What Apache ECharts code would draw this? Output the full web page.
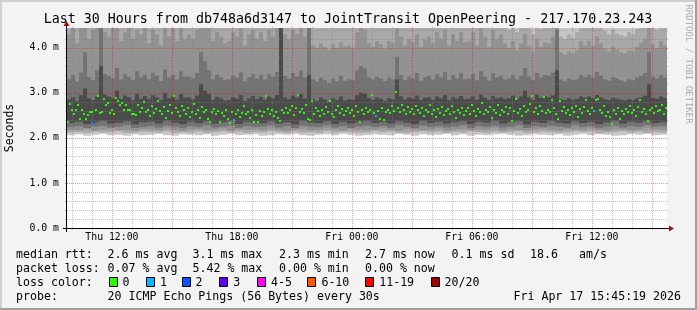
<!DOCTYPE html>
<html><head><meta charset="utf-8">
<script src="https://cdn.jsdelivr.net/npm/echarts@6/dist/echarts.min.js"></script>
<style>html,body{margin:0;padding:0;background:#f3f3f3;overflow:hidden}#c{width:697px;height:310px}</style>
</head><body><div id="c"></div>
<script>
// ---- time frame (hours since Thu 00:00) ----
const startHour = 9 + 45/60 + 19/3600;   // Thu 09:45:19
const spanHours = 30;
const medianStep = 0.1;   // 6 min per median sample
const smokeStep = 0.2;    // 12 min per upper smoke column
const lowStep = 0.4;      // 24 min per lower smoke column
const yMax = 4.44;

const xTickHours = [12, 18, 24, 30, 36];
const xTickLabels = ['Thu 12:00', 'Thu 18:00', 'Fri 00:00', 'Fri 06:00', 'Fri 12:00'];
const yTickValues = [0, 1, 2, 3, 4];
const yTickLabels = ['0.0 m', '1.0 m', '2.0 m', '3.0 m', '4.0 m'];

// ---- median RTT (ms), one per 6 min ----
const medians = [
2.35,2.76,2.63,2.54,2.61,2.72,2.43,2.61,2.54,2.43,
2.50,2.58,2.58,2.33,2.63,2.94,2.56,2.58,2.87,2.74,
2.78,2.56,2.63,2.54,2.89,2.81,2.74,2.78,2.63,2.74,
2.63,2.61,2.52,2.52,2.50,2.74,2.58,2.66,2.79,2.57,
2.62,2.48,2.70,2.55,2.64,2.81,2.59,2.52,2.68,2.45,
2.60,2.73,2.55,2.92,2.66,2.58,2.49,2.71,2.62,2.54,
2.67,2.47,2.58,2.76,2.52,2.63,2.44,2.69,2.57,2.61,
2.41,2.35,2.58,2.65,2.52,2.60,2.36,2.55,2.48,2.62,
2.43,2.32,2.58,2.39,2.54,2.61,2.47,2.56,2.70,2.52,
2.58,2.45,2.62,2.36,2.51,2.35,2.60,2.49,2.57,2.92,
2.65,2.52,2.63,2.48,2.57,2.44,2.38,2.61,2.55,2.67,
2.56,2.62,2.70,2.50,2.66,2.96,2.58,2.64,2.55,2.72,
2.43,2.40,2.81,2.53,2.66,2.59,2.48,2.63,2.54,2.69,
2.58,2.83,2.52,2.46,2.61,2.70,2.56,2.64,2.50,2.59,
2.67,2.55,2.62,2.49,2.71,2.58,2.36,2.63,2.54,2.66,
2.57,2.62,2.96,2.55,2.48,2.60,2.42,2.67,2.40,2.58,
2.63,2.55,2.70,2.60,3.03,2.66,2.58,2.72,2.62,2.54,
2.68,2.57,2.64,2.52,2.70,2.61,2.55,2.66,2.49,2.63,
2.58,2.72,2.54,2.61,2.47,2.65,2.56,2.69,2.51,2.60,
2.64,2.53,2.71,2.58,2.45,2.62,2.55,2.67,2.50,2.59,
2.66,2.54,2.73,2.60,2.48,2.65,2.57,2.78,2.52,2.62,
2.58,2.69,2.44,2.61,2.55,2.74,2.50,2.63,2.57,2.68,
2.53,2.66,2.37,2.60,2.87,2.55,2.64,2.49,2.71,2.58,
2.62,2.76,2.94,2.57,2.66,2.52,2.70,2.60,2.91,2.55,
2.63,2.58,2.85,2.67,2.54,2.41,2.83,2.60,2.69,2.56,
2.62,2.50,2.66,2.58,2.71,2.47,2.64,2.55,2.68,2.85,
2.60,2.52,2.67,2.59,2.85,2.86,2.63,2.55,2.70,2.48,
2.58,2.46,2.30,2.62,2.54,2.67,2.43,2.60,2.52,2.65,
2.57,2.70,2.55,2.62,2.49,2.68,2.85,2.58,2.64,2.53,
2.37,2.61,2.66,2.55,2.70,2.59,2.63,2.72,2.54,2.67
];
// loss class per median sample (index -> class), all others 0
const lossAt = {13: 2, 83: 1, 154: 1, 263: 1};

// ---- smoke: lower edges (ms), one per 24 min ----
const lo1 = [2.06,2.08,2.05,2.07,2.09,2.06,2.07,2.05,2.08,2.06, 2.07,2.09,2.06,2.05,2.08,2.07,2.06,2.08,2.05,2.07, 2.09,2.06,2.07,2.08,2.05,2.06,2.08,2.07,2.09,2.06, 2.05,2.07,2.08,2.06,2.09,2.07,2.05,2.06,2.08,2.07, 2.06,2.09,2.07,2.05,2.08,2.06,2.07,2.09,2.06,2.08, 2.05,2.07,2.06,2.08,2.09,2.07,2.05,2.06,2.08,2.07, 2.06,2.08,2.05,2.07,2.09,2.06,2.08,2.07,2.05,2.06, 2.08,2.07,2.09,2.06,2.07];
const lo2 = [2.12,2.13,2.11,2.14,2.12,2.13,2.15,2.11,2.12,2.14, 2.13,2.12,2.15,2.11,2.13,2.12,2.14,2.11,2.13,2.15, 2.12,2.14,2.11,2.13,2.12,2.15,2.13,2.11,2.14,2.12, 2.13,2.11,2.15,2.12,2.14,2.13,2.11,2.12,2.15,2.13, 2.14,2.12,2.11,2.13,2.15,2.12,2.14,2.11,2.13,2.12, 2.15,2.13,2.11,2.14,2.12,2.13,2.15,2.11,2.12,2.14, 2.13,2.11,2.12,2.15,2.13,2.14,2.11,2.12,2.13,2.15, 2.12,2.14,2.11,2.13,2.12];
const lo3 = [2.18,2.17,2.20,2.16,2.19,2.21,2.17,2.18,2.16,2.20, 2.19,2.17,2.21,2.18,2.16,2.19,2.20,2.17,2.18,2.21, 2.16,2.19,2.18,2.20,2.17,2.21,2.18,2.16,2.19,2.20, 2.17,2.18,2.21,2.19,2.16,2.20,2.18,2.17,2.19,2.21, 2.18,2.16,2.20,2.19,2.17,2.18,2.21,2.16,2.19,2.20, 2.17,2.19,2.18,2.21,2.16,2.20,2.18,2.17,2.19,2.21, 2.18,2.16,2.20,2.19,2.17,2.21,2.18,2.16,2.20,2.19, 2.17,2.18,2.21,2.19,2.18];
const lo4 = [2.24,2.26,2.22,2.25,2.27,2.23,2.25,2.28,2.22,2.24, 2.26,2.23,2.27,2.25,2.22,2.26,2.24,2.28,2.23,2.25, 2.27,2.22,2.26,2.24,2.25,2.28,2.23,2.26,2.22,2.27, 2.25,2.24,2.28,2.23,2.26,2.22,2.25,2.27,2.24,2.26, 2.23,2.28,2.25,2.22,2.27,2.24,2.26,2.23,2.25,2.28, 2.22,2.26,2.24,2.27,2.23,2.25,2.28,2.22,2.26,2.24, 2.27,2.25,2.23,2.28,2.24,2.26,2.22,2.25,2.27,2.23, 2.26,2.24,2.28,2.25,2.26];
const lo5 = [2.33,2.36,2.31,2.35,2.38,2.32,2.34,2.37,2.30,2.35, 2.36,2.32,2.38,2.34,2.31,2.36,2.33,2.37,2.32,2.35, 2.38,2.31,2.36,2.34,2.33,2.37,2.32,2.35,2.30,2.38, 2.34,2.33,2.37,2.31,2.36,2.32,2.35,2.38,2.33,2.36, 2.32,2.37,2.34,2.31,2.38,2.33,2.36,2.32,2.35,2.37, 2.31,2.36,2.34,2.38,2.32,2.35,2.37,2.30,2.36,2.33, 2.38,2.34,2.32,2.37,2.33,2.36,2.31,2.35,2.38,2.32, 2.36,2.34,2.37,2.33,2.35];
const hi1 = [5.8,6.2,5.1,6.6,5.4,4.9,6.0,5.7,5.2,6.4, 5.5,4.8,6.1,5.9,5.3,6.7,5.0,5.6,6.3,5.1, 4.9,5.8,6.2,5.4,5.7,6.5,5.0,5.3,6.0,5.6, 5.2,6.1,4.8,5.9,5.5,6.4,5.1,5.7,6.2,5.0, 5.4,6.0,5.8,4.9,5.6,6.3,5.2,5.5,6.1,4.8, 5.7,5.3,6.6,5.0,5.9,5.4,6.2,5.1,4.9,5.8, 5.5,6.0,5.2,4.7,5.6,6.1,5.0,5.3,4.9,5.7, 5.4,5.8,5.1,6.0,5.5];

// ---- smoke: upper edges (ms), one per 12 min ----
const hi2 = [
4.80,4.90,4.60,5.00,5.10,4.70,4.85,4.95,5.20,4.75,
4.70,4.85,4.95,4.55,4.80,4.90,4.65,4.85,4.75,4.95,
4.55,4.85,4.75,4.50,4.95,4.70,4.90,4.60,4.90,4.65,
4.75,4.65,4.85,5.10,5.00,4.90,4.60,4.80,4.70,4.55,
4.60,4.80,4.70,4.90,4.50,4.75,4.85,4.65,4.80,4.60,
4.85,4.70,4.90,5.40,4.75,4.65,4.85,4.75,4.95,4.70,
5.10,4.60,4.55,4.65,4.58,4.50,4.62,4.55,4.70,4.57,
4.60,4.55,4.85,4.95,4.90,4.65,4.58,4.70,4.62,4.52,
4.70,4.62,4.95,4.78,4.58,4.75,4.65,4.85,4.55,4.72,
4.80,4.60,4.85,4.70,4.90,4.55,4.80,4.65,4.88,4.60,
4.65,4.85,4.55,4.92,4.75,4.50,4.88,4.70,4.80,4.60,
4.40,4.55,4.35,4.50,4.70,4.45,4.30,4.60,4.42,4.52,
4.50,4.65,5.00,4.25,4.20,4.30,4.22,4.35,4.55,4.45,
4.55,4.45,4.65,4.50,4.38,4.30,4.40,4.32,4.28,4.25,
4.35,4.30,4.42,4.50,4.60,4.90,4.48,4.40,4.55,4.45];
const hi3 = [
4.30,4.50,4.10,4.60,4.70,4.20,4.40,4.55,4.80,4.35,
4.25,4.45,4.60,4.15,4.35,4.50,4.20,4.40,4.30,4.55,
4.10,4.40,4.30,4.05,4.55,4.25,4.45,4.15,4.50,4.20,
4.30,4.20,4.40,4.70,4.60,4.50,4.15,4.35,4.25,4.10,
4.15,4.35,4.25,4.45,4.05,4.30,4.40,4.20,4.35,4.15,
4.40,4.25,4.45,5.20,4.30,4.20,4.40,4.30,4.50,4.25,
4.90,4.05,4.00,4.10,4.02,3.95,4.08,4.00,4.12,4.03,
4.05,4.00,4.35,4.45,4.40,4.10,4.02,4.15,4.08,3.98,
4.15,4.10,4.50,4.25,4.05,4.20,4.12,4.30,4.02,4.18,
4.25,4.10,4.35,4.20,4.40,4.05,4.30,4.15,4.35,4.12,
4.15,4.35,4.05,4.45,4.25,4.02,4.40,4.20,4.30,4.10,
4.00,4.15,3.95,4.10,4.30,4.05,3.92,4.20,4.02,4.12,
4.10,4.25,4.80,3.90,3.85,3.92,3.88,3.95,4.15,4.05,
4.15,4.05,4.25,4.10,3.98,3.92,4.02,3.96,3.90,3.88,
3.95,3.92,4.02,4.10,4.20,4.55,4.08,4.00,4.15,4.05];
const hi4 = [
3.30,3.40,3.25,3.45,3.90,3.35,3.28,3.50,4.60,3.42,
3.38,3.32,3.55,3.30,3.42,3.36,3.28,3.48,3.34,3.40,
3.30,3.45,3.38,3.26,3.52,3.34,3.40,3.30,3.48,3.36,
3.36,3.32,3.44,3.90,3.70,3.50,3.30,3.40,3.34,3.28,
3.30,3.38,3.34,3.45,3.26,3.35,3.42,3.32,3.40,3.30,
3.42,3.36,3.46,5.00,3.38,3.32,3.44,3.36,3.50,3.34,
4.50,3.30,3.25,3.34,3.28,3.22,3.32,3.26,3.38,3.27,
3.30,3.28,3.50,3.60,3.55,3.34,3.30,3.36,3.32,3.26,
3.34,3.30,3.80,3.40,3.28,3.36,3.32,3.44,3.27,3.35,
3.38,3.30,3.42,3.34,3.46,3.28,3.40,3.32,3.44,3.30,
3.32,3.42,3.28,3.48,3.36,3.27,3.44,3.34,3.38,3.30,
3.32,3.40,3.30,3.38,3.55,3.36,3.28,3.44,3.34,3.40,
3.38,3.45,4.40,3.30,3.26,3.32,3.28,3.30,3.40,3.35,
3.40,3.34,3.46,3.38,3.30,3.27,3.35,3.32,3.28,3.25,
3.30,3.28,3.34,3.38,3.44,3.90,3.36,3.32,3.40,3.34];
const hi5 = [
2.85,2.90,2.82,2.95,3.10,2.88,2.84,2.92,3.60,2.96,
2.92,2.88,3.05,2.86,2.94,2.90,2.84,2.98,2.87,2.93,
2.86,2.95,2.90,2.84,3.00,2.88,2.92,2.85,2.97,2.89,
2.90,2.86,2.94,3.20,3.05,2.98,2.85,2.91,2.88,2.83,
2.84,2.90,2.87,2.95,2.82,2.88,2.93,2.86,2.91,2.85,
2.92,2.88,2.95,4.80,2.90,2.86,2.94,2.89,2.97,2.87,
3.40,2.86,2.82,2.90,2.85,2.80,2.88,2.84,2.92,2.83,
2.86,2.84,2.95,3.00,2.98,2.88,2.85,2.90,2.87,2.82,
2.88,2.86,3.30,2.92,2.85,2.90,2.87,2.94,2.84,2.89,
2.90,2.85,2.92,2.88,2.95,2.84,2.91,2.87,2.93,2.86,
2.87,2.92,2.85,2.96,2.89,2.84,2.93,2.88,2.90,2.86,
2.88,2.94,2.86,2.92,3.05,2.90,2.84,2.96,2.89,2.93,
2.90,2.95,3.50,2.86,2.84,2.88,2.85,2.87,2.92,2.89,
2.92,2.88,2.95,2.90,2.86,2.84,2.89,2.87,2.85,2.83,
2.86,2.84,2.88,2.90,2.94,3.20,2.89,2.87,2.92,2.88];

// ---- legend texts ----
const title = 'Last 30 Hours from db748a6d3147 to JointTransit OpenPeering - 217.170.23.243';
const rttStats = ['2.6 ms avg', '3.1 ms max', '2.3 ms min', '2.7 ms now', '0.1 ms sd', '18.6', 'am/s'];
const lossStats = ['0.07 % avg', '5.42 % max', '0.00 % min', '0.00 % now'];
const lossLabels = ['0', '1', '2', '3', '4-5', '6-10', '11-19', '20/20'];
const lossColors = ['#26ff00', '#00b8ff', '#0059ff', '#5e00ff', '#ff00ff', '#ff5500', '#ff0000', '#a10000'];
const probeText = '20 ICMP Echo Pings (56 Bytes) every 30s';
const stampText = 'Fri Apr 17 15:45:19 2026';

// ---- styling / layout ----
const MONO = '"DejaVu Sans Mono", monospace';
const bandColors = ['#c6c6c6', '#a9a9a9', '#929292', '#737373', '#4b4b4b'];
const statX = [107.6, 192.5, 279, 365, 451.6, 530, 579];
const lossLabelX = [122.5, 160, 195.6, 233.2, 271, 321.4, 379.2, 444.5];

const chart = echarts.init(document.getElementById('c'), null, {renderer: 'canvas'});

function smokeItem(params, api) {
  const k = api.value(0);
  const j = Math.floor(k * smokeStep / lowStep + 1e-9);
  const t0 = startHour + k * smokeStep, t1 = t0 + smokeStep;
  const bands = [[lo1[j], hi1[j]], [lo2[j], hi2[k]], [lo3[j], hi3[k]], [lo4[j], hi4[k]], [lo5[j], hi5[k]]];
  const children = bands.map((b, n) => {
    const top = Math.min(b[1], yMax);
    const p0 = api.coord([t0, top]);
    const p1 = api.coord([t1, b[0]]);
    return {type: 'rect', shape: {x: p0[0], y: p0[1], width: p1[0] - p0[0], height: p1[1] - p0[1]},
            style: {fill: bandColors[n]}};
  });
  return {type: 'group', children};
}

// grid lines (drawn above smoke, like rrdtool)
const gridLines = [];
for (let h = Math.ceil(startHour); h < startHour + spanHours; h++) gridLines.push([0, h, h % 3 === 0 ? 1 : 0]);
for (let k = 1; k * 0.2 <= yMax + 1e-9; k++) gridLines.push([1, +(k * 0.2).toFixed(1), k % 5 === 0 ? 1 : 0]);

function gridItem(params, api) {
  const dir = api.value(0), v = api.value(1), major = api.value(2);
  const stroke = major ? 'rgba(255,0,0,0.42)' : 'rgba(130,130,130,0.5)';
  let shape;
  if (dir === 0) {
    const a = api.coord([v, 0]), b = api.coord([v, yMax]);
    const x = Math.round(a[0]) + 0.5;
    shape = {x1: x, y1: a[1] + 2, x2: x, y2: b[1] - 1};
  } else {
    const a = api.coord([startHour, v]), b = api.coord([startHour + spanHours, v]);
    const y = Math.round(a[1]) + 0.5;
    shape = {x1: a[0] - 2, y1: y, x2: b[0] + 2, y2: y};
  }
  return {type: 'line', shape, style: {stroke, lineWidth: 1, lineDash: [1, 1]}};
}

function medianItem(params, api) {
  const p = api.coord([api.value(0), api.value(1)]);
  const cls = api.value(2);
  return {type: 'rect', shape: {x: Math.round(p[0]) - 1, y: Math.round(p[1] - 1), width: 2, height: 2},
          style: {fill: lossColors[cls]}};
}

const graphics = [
  // frame
  {type: 'rect', shape: {x: 0, y: 0, width: 697, height: 2}, style: {fill: '#d0d0d0'}, silent: true},
  {type: 'rect', shape: {x: 0, y: 0, width: 2, height: 310}, style: {fill: '#d0d0d0'}, silent: true},
  {type: 'rect', shape: {x: 0, y: 308, width: 697, height: 2}, style: {fill: '#a0a0a0'}, silent: true},
  {type: 'rect', shape: {x: 695, y: 0, width: 2, height: 310}, style: {fill: '#a0a0a0'}, silent: true},
  // axes with arrows
  {type: 'line', shape: {x1: 63, y1: 228.5, x2: 670, y2: 228.5}, style: {stroke: '#000', lineWidth: 1}, z: 10},
  {type: 'polygon', shape: {points: [[669, 225.5], [674, 228.5], [669, 231.5]]}, style: {fill: '#a01010'}, z: 10},
  {type: 'line', shape: {x1: 66.5, y1: 232, x2: 66.5, y2: 25}, style: {stroke: '#000', lineWidth: 1}, z: 10},
  {type: 'polygon', shape: {points: [[63.5, 26], [66.5, 21], [69.5, 26]]}, style: {fill: '#a01010'}, z: 10},
  // title
  {type: 'text', x: 348, y: 19.5, style: {text: title, font: '13.3px ' + MONO, fill: '#000', textAlign: 'center', textVerticalAlign: 'middle'}},
  // y title
  {type: 'text', x: 10.5, y: 128, rotation: Math.PI / 2, style: {text: 'Seconds', font: '11.5px ' + MONO, fill: '#000', textAlign: 'center', textVerticalAlign: 'middle'}},
  // watermark
  {type: 'text', x: 688, y: 64, rotation: -Math.PI / 2, style: {text: 'RRDTOOL / TOBI OETIKER', font: '9px ' + MONO, fill: '#acacac', textAlign: 'center', textVerticalAlign: 'middle'}},
  // legend rows
  {type: 'text', x: 16, y: 254.5, style: {text: 'median rtt:', font: '11.6px ' + MONO, fill: '#000', textVerticalAlign: 'middle'}},
  {type: 'text', x: 16, y: 268.5, style: {text: 'packet loss:', font: '11.6px ' + MONO, fill: '#000', textVerticalAlign: 'middle'}},
  {type: 'text', x: 16, y: 282.5, style: {text: 'loss color:', font: '11.6px ' + MONO, fill: '#000', textVerticalAlign: 'middle'}},
  {type: 'text', x: 16, y: 296.5, style: {text: 'probe:', font: '11.6px ' + MONO, fill: '#000', textVerticalAlign: 'middle'}},
  {type: 'text', x: statX[0], y: 296.5, style: {text: probeText, font: '11.6px ' + MONO, fill: '#000', textVerticalAlign: 'middle'}},
  {type: 'text', x: 681, y: 296.5, style: {text: stampText, font: '11.6px ' + MONO, fill: '#000', textAlign: 'right', textVerticalAlign: 'middle'}}
];
rttStats.forEach((s, i) => graphics.push({type: 'text', x: statX[i], y: 254.5, style: {text: s, font: '11.6px ' + MONO, fill: '#000', textVerticalAlign: 'middle'}}));
lossStats.forEach((s, i) => graphics.push({type: 'text', x: statX[i], y: 268.5, style: {text: s, font: '11.6px ' + MONO, fill: '#000', textVerticalAlign: 'middle'}}));
lossLabels.forEach((s, i) => {
  const x = lossLabelX[i];
  graphics.push({type: 'rect', shape: {x: Math.round(x - 14) + 0.5, y: 277.5, width: 8, height: 9}, style: {fill: lossColors[i], stroke: '#000', lineWidth: 1}});
  graphics.push({type: 'text', x: x, y: 282.5, style: {text: s, font: '11.6px ' + MONO, fill: '#000', textVerticalAlign: 'middle'}});
});

chart.setOption({
  animation: false,
  backgroundColor: '#f3f3f3',
  grid: {left: 67, right: 30, top: 28, height: 200, backgroundColor: '#ffffff', show: true, borderWidth: 0},
  xAxis: {
    type: 'value', min: startHour, max: startHour + spanHours,
    axisLine: {show: false}, axisTick: {show: false}, splitLine: {show: false},
    axisLabel: {customValues: xTickHours, formatter: v => xTickLabels[xTickHours.indexOf(Math.round(v))] || '',
                fontFamily: MONO, fontSize: 9.8, color: '#000', margin: 4}
  },
  yAxis: {
    type: 'value', min: 0, max: yMax,
    axisLine: {show: false}, axisTick: {show: false}, splitLine: {show: false},
    axisLabel: {customValues: yTickValues, formatter: v => yTickLabels[yTickValues.indexOf(Math.round(v))] || '',
                fontFamily: MONO, fontSize: 9.8, color: '#000', margin: 8}
  },
  series: [
    {type: 'custom', renderItem: smokeItem, clip: true, z: 1, silent: true,
     data: hi5.map((v, k) => [k, v])},
    {type: 'custom', renderItem: gridItem, clip: false, z: 2, silent: true, data: gridLines},
    {type: 'custom', renderItem: medianItem, clip: true, z: 3, silent: true,
     data: medians.map((v, i) => [startHour + (i + 0.5) * medianStep, v, lossAt[i] || 0])}
  ],
  graphic: graphics
});
</script>
</body></html>
